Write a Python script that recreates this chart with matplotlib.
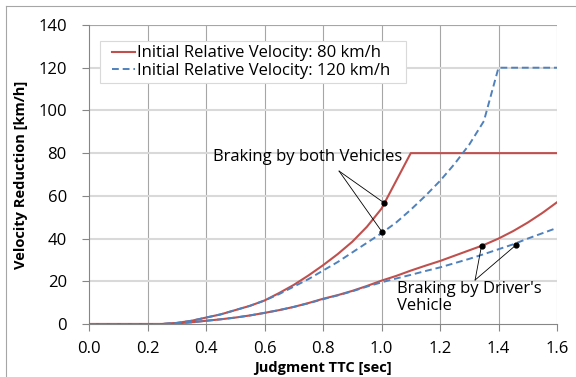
import matplotlib
matplotlib.use("Agg")
import matplotlib.pyplot as plt
from matplotlib.lines import Line2D
from matplotlib.patches import Rectangle

plt.rcParams['font.family'] = ['Open Sans', 'DejaVu Sans']

ttc = [0.0, 0.05, 0.1, 0.15, 0.2, 0.25, 0.3, 0.35, 0.4, 0.45, 0.5, 0.55, 0.6, 0.65,
       0.7, 0.75, 0.8, 0.85, 0.9, 0.95, 1.0, 1.05, 1.1, 1.15, 1.2, 1.25, 1.3, 1.35,
       1.4, 1.45, 1.5, 1.55, 1.6]

both_80 = [0, 0, 0, 0, 0, 0, 0.5, 1.5, 3, 4.5, 6.5, 8.5, 11, 14.5, 18.3, 22.7, 27.5,
           32.7, 38.5, 45.5, 54, 67, 80, 80, 80, 80, 80, 80, 80, 80, 80, 80, 80]
both_120 = [0, 0, 0, 0, 0, 0, 0.5, 1.5, 3, 4.5, 6.5, 8.5, 11, 14, 17.5, 21, 25,
            29, 33.5, 38, 42.5, 47.5, 53.5, 60, 67, 75, 84, 95, 120, 120, 120, 120, 120]
driver_80 = [0, 0, 0, 0, 0, 0, 0.3, 0.8, 1.5, 2.2, 3, 4, 5.2, 6.5, 8, 9.8, 11.8,
             13.5, 15.5, 17.8, 20.3, 22.5, 25, 27.3, 29.5, 32, 34.5, 37, 40, 43.5,
             47.5, 52, 57]
driver_120 = [0, 0, 0, 0, 0, 0, 0.3, 0.8, 1.5, 2.2, 3, 4, 5.2, 6.5, 8, 9.7, 11.6,
              13.4, 15.3, 17.5, 19.5, 21.3, 23, 24.8, 26.5, 28.5, 30.5, 32.7, 35,
              37.3, 40, 42.5, 45]

legend_labels = ["Initial Relative Velocity: 80 km/h", "Initial Relative Velocity: 120 km/h"]
xticks = [0.0, 0.2, 0.4, 0.6, 0.8, 1.0, 1.2, 1.4, 1.6]
yticks = [0, 20, 40, 60, 80, 100, 120, 140]

ann1_text = "Braking by both Vehicles"
ann1_pts = [(1.008, 56.8), (1.003, 42.9)]
ann2_text = "Braking by Driver's\nVehicle"
ann2_pts = [(1.342, 36.7), (1.46, 37.0)]

RED = '#C0504D'
BLUE = '#4F81BD'
FS = 12
LFS = 10.5
W, H = 576, 377

fig = plt.figure(figsize=(5.76, 3.77), dpi=100)
ax = fig.add_axes([89/W, 1-324/H, (557-89)/W, (324-25)/H])

ax.plot(ttc, both_80, color=RED, lw=1.5, zorder=3)
ax.plot(ttc, driver_80, color=RED, lw=1.5, zorder=3)
ax.plot(ttc, both_120, color=BLUE, lw=1.4, ls=(0, (3.5, 2)), zorder=4)
ax.plot(ttc, driver_120, color=BLUE, lw=1.4, ls=(0, (3.5, 2)), zorder=4)

ax.set_xlim(0, 1.6)
ax.set_ylim(0, 140)
ax.set_xticks(xticks)
ax.set_xticklabels([f"{v:.1f}" for v in xticks])
ax.set_yticks(yticks)
ax.tick_params(axis='both', labelsize=FS, direction='out', length=5,
               color='#868686', width=0.8, labelcolor='#000000')
ax.tick_params(axis='x', pad=7)
ax.tick_params(axis='y', pad=11)

for v in xticks[1:]:
    ax.axvline(v, color='#a6a6a6', lw=0.8, zorder=1)
for v in yticks[1:]:
    ax.axhline(v, color='#d9d9d9', lw=1.5, zorder=1)
ax.axhline(140, color='#a6a6a6', lw=0.8, zorder=1)
for s in ['top', 'right']:
    ax.spines[s].set_visible(False)
ax.spines['left'].set_color('#868686')
ax.spines['bottom'].set_color('#868686')
ax.spines['left'].set_linewidth(0.8)
ax.spines['bottom'].set_linewidth(0.8)

ax.set_xlabel("Judgment TTC [sec]", fontsize=LFS, fontweight='bold', labelpad=3)
ax.set_ylabel("Velocity Reduction [km/h]", fontsize=LFS, fontweight='bold', labelpad=7)

# legend frame drawn separately to get Excel-like inner padding
frame = Rectangle((100/W, 1-83/H), (406-100)/W, (83-41)/H,
                  transform=fig.transFigure, facecolor='white',
                  edgecolor='#d9d9d9', lw=0.8, zorder=7, clip_on=False)
ax.add_patch(frame)
handles = [Line2D([], [], color=RED, lw=1.5),
           Line2D([], [], color=BLUE, lw=1.4, ls=(0, (3.5, 2)))]
leg = ax.legend(handles, legend_labels, loc='upper left',
                bbox_to_anchor=(109/W, 1-42/H), bbox_transform=fig.transFigure,
                fontsize=FS, frameon=False, handlelength=1.35, handletextpad=0.12,
                labelspacing=0.1, borderpad=0.2, borderaxespad=0)
leg.set_zorder(8)

apex1 = (0.855, 71.6)
ax.text(0.424, 78.2, ann1_text, fontsize=FS, va='center', ha='left', zorder=6)
for p in ann1_pts:
    ax.plot([apex1[0], p[0]], [apex1[1], p[1]], color='black', lw=0.6, zorder=5)
    ax.plot(p[0], p[1], 'o', color='black', ms=3.5, zorder=6)

apex2 = (1.32, 20.6)
ax.text(1.053, 12.3, ann2_text, fontsize=FS, va='center', ha='left',
        linespacing=1.05, zorder=6)
for p in ann2_pts:
    ax.plot([apex2[0], p[0]], [apex2[1], p[1]], color='black', lw=0.6, zorder=5)
    ax.plot(p[0], p[1], 'o', color='black', ms=3.5, zorder=6)

fig.add_artist(Line2D([6/W, 1.0], [1-6/H, 1-6/H], transform=fig.transFigure,
                      color='#a6a6a6', lw=0.8))
fig.add_artist(Line2D([6/W, 6/W], [0, 1-6/H], transform=fig.transFigure,
                      color='#a6a6a6', lw=0.8))

fig.savefig("out.png", dpi=100)
